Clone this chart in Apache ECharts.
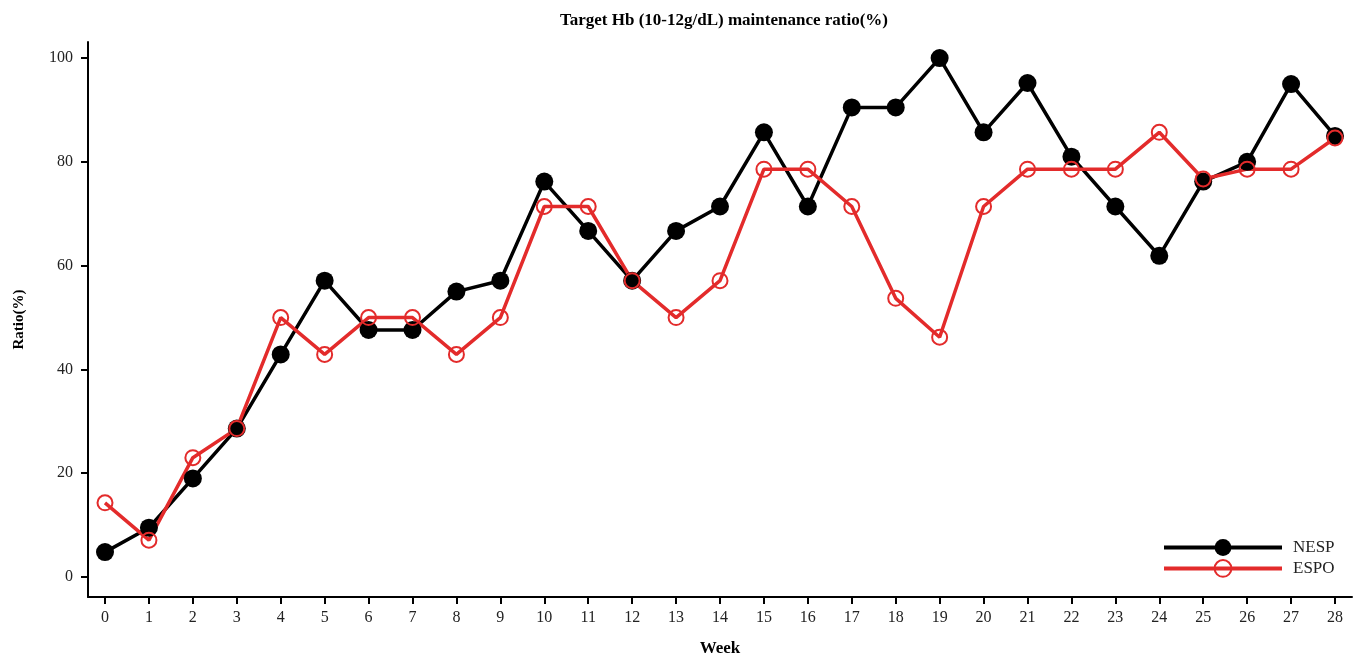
<!DOCTYPE html>
<html>
<head>
<meta charset="utf-8">
<script src="https://cdn.jsdelivr.net/npm/echarts@6/dist/echarts.min.js"></script>
<style>
html,body{margin:0;padding:0;background:#fff;}
#chart{width:1355px;height:658px;}
</style>
</head>
<body>
<div id="chart"></div>
<script>
var weeks = [0,1,2,3,4,5,6,7,8,9,10,11,12,13,14,15,16,17,18,19,20,21,22,23,24,25,26,27,28];
var nesp = [4.8,9.5,19.0,28.6,42.9,57.1,47.6,47.6,55.0,57.1,76.2,66.7,57.1,66.7,71.4,85.7,71.4,90.5,90.5,100,85.7,95.2,81.0,71.4,61.9,76.2,80.0,95.0,85.0];
var espo = [14.3,7.1,23.0,28.6,50.0,42.9,50.0,50.0,42.9,50.0,71.4,71.4,57.1,50.0,57.1,78.6,78.6,71.4,53.7,46.2,71.4,78.6,78.6,78.6,85.7,76.7,78.6,78.6,84.6];
var yTicks = [0,20,40,60,80,100];
var seriesNames = ['NESP','ESPO'];

var font = '"Liberation Serif","Times New Roman",serif';
var red = '#e32b2b';
function pairs(vals){ return weeks.map(function(w,i){ return [w, vals[i]]; }); }

var chart = echarts.init(document.getElementById('chart'));
chart.setOption({
  animation: false,
  backgroundColor: '#fff',
  title: {
    text: 'Target Hb (10-12g/dL) maintenance ratio(%)',
    left: 719, top: 7, textAlign: 'center',
    textStyle: {fontFamily: font, fontSize: 17, fontWeight: 'bold', color: '#000'}
  },
  grid: {left: 88, right: 3, top: 42, bottom: 61, containLabel: false, outerBoundsMode: 'none'},
  legend: {
    orient: 'vertical', left: 1162, top: 539, padding: 0, itemWidth: 118, itemHeight: 21, itemGap: 3,
    textStyle: {fontFamily: font, fontSize: 17, color: '#222', padding:[0,0,0,6]},
    data: [
      {name: seriesNames[0], lineStyle: {width: 4}},
      {name: seriesNames[1], lineStyle: {width: 4}}
    ]
  },
  xAxis: {
    type: 'value', min: -0.387, max: 28.387,
    name: 'Week', nameLocation: 'middle', nameGap: 43,
    nameTextStyle: {fontFamily: font, fontSize: 17, fontWeight: 'bold', color: '#000'},
    axisLine: {show: true, onZero: false, lineStyle: {color: '#000', width: 2}},
    axisTick: {show: true, length: 7, lineStyle: {color: '#000', width: 2}, customValues: weeks},
    axisLabel: {fontFamily: font, fontSize: 16, color: '#222', margin: 13, customValues: weeks},
    splitLine: {show: false}
  },
  yAxis: {
    type: 'value', min: -3.85, max: 103.1,
    name: 'Ratio(%)', nameLocation: 'middle', nameGap: 61, nameRotate: 90,
    nameTextStyle: {fontFamily: font, fontSize: 15, fontWeight: 'bold', color: '#000'},
    axisLine: {show: true, onZero: false, lineStyle: {color: '#000', width: 2}},
    axisTick: {show: true, length: 7, lineStyle: {color: '#000', width: 2}, customValues: yTicks},
    axisLabel: {fontFamily: font, fontSize: 16, color: '#222', margin: 15, customValues: yTicks},
    splitLine: {show: false}
  },
  series: [
    {
      name: 'NESP', type: 'line', data: pairs(nesp),
      symbol: 'circle', symbolSize: 18,
      lineStyle: {color: '#000', width: 3.5},
      itemStyle: {color: '#000'}
    },
    {
      name: 'ESPO', type: 'line', data: pairs(espo),
      symbol: 'circle', symbolSize: 15,
      lineStyle: {color: red, width: 3.5},
      itemStyle: {color: 'rgba(255,255,255,0)', borderColor: red, borderWidth: 2}
    }
  ]
});
</script>
</body>
</html>
